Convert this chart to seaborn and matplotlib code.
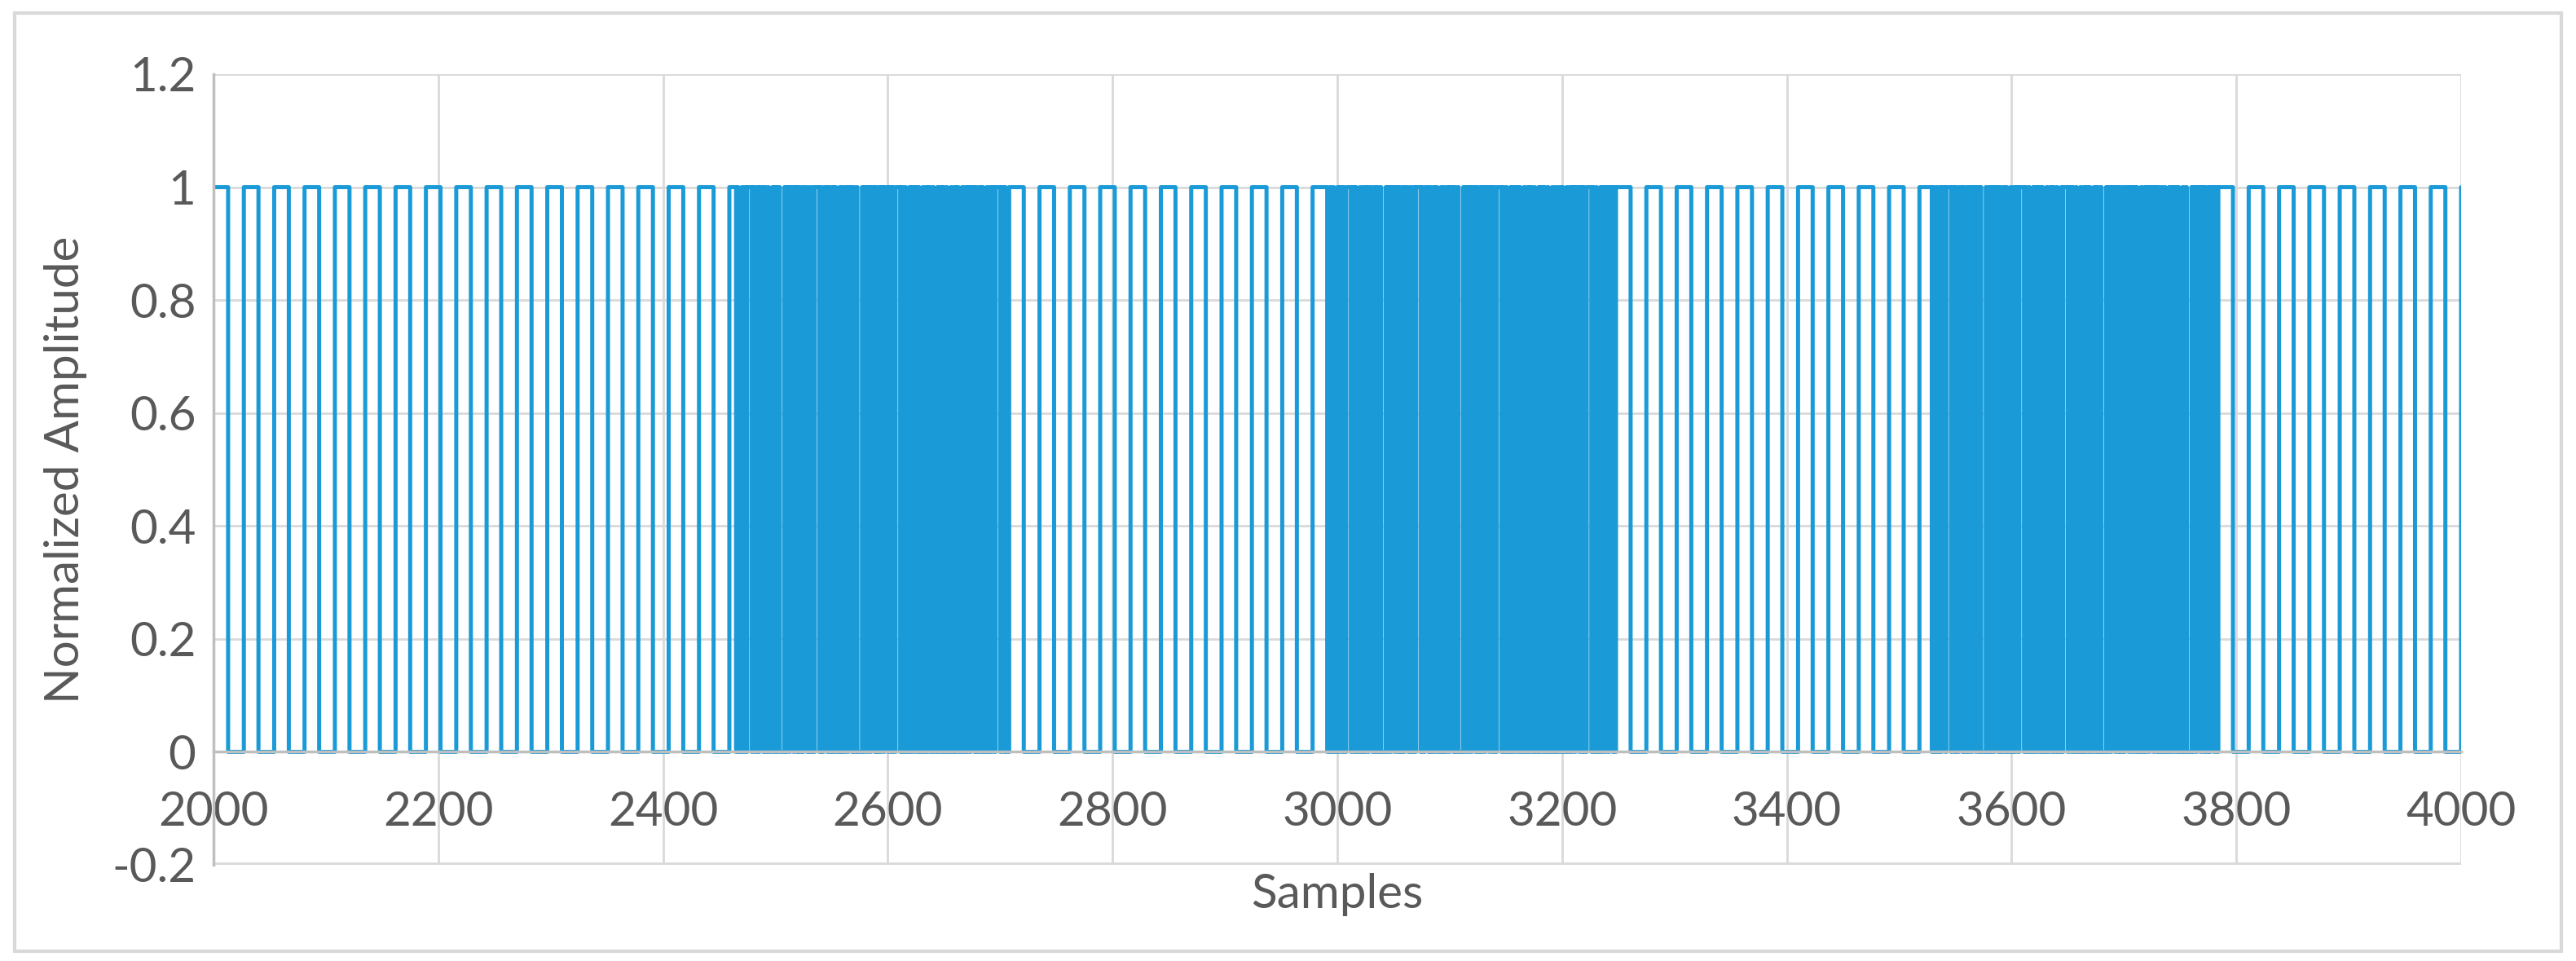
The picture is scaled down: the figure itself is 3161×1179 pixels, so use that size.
import numpy as np
import pandas as pd
import matplotlib
matplotlib.use("Agg")
import matplotlib.pyplot as plt
import seaborn as sns

# ---- data ----
x_ticks = [2000, 2200, 2400, 2600, 2800, 3000, 3200, 3400, 3600, 3800, 4000]
y_ticks = [-0.2, 0, 0.2, 0.4, 0.6, 0.8, 1, 1.2]
y_ticklabels = ["-0.2", "0", "0.2", "0.4", "0.6", "0.8", "1", "1.2"]
sparse_high = 13
sparse_low = 14
sparse_blocks = [(2000, 2463), (2708, 2993), (3248, 3526), (3784, 4000)]
dense_blocks = [(2463, 2708), (2993, 3248), (3526, 3784)]
dense_runs_1 = [2,1,1,3,1,2,1,1,4,1,2,2,1,1,3,1,1,2,1,3,2,1,1,1,2,4,1,1,2,1,3,1,2,1,1,2,1,1,3,2,
                1,2,1,1,4,1,1,2,3,1,1,2,1,1,2,3,1,1,1,2,2,1,3,1,1,2,1,4,1,1,2,1,2,1,3,1,1,2,1,1,
                2,1,3,1,2,1,1,2,4,1,1,2,1,3,1,1,2,1,2,1,1,3,1,2,1,1,2,2,1,3,1,1,2,1,1,2,1,3,1,2,
                1,1,2,3,1,2,1,1,2,1,3,1,1,2,2,1,1,3,1,2,1,1,2,1,4,1,2,1,1,3]
dense_runs_2 = [1,2,1,3,1,1,2,1,1,2,4,1,2,1,1,3,1,2,1,1,2,1,3,2,1,1,1,2,1,4,1,1,2,1,3,1,2,1,1,2,
                1,1,3,2,1,2,1,1,4,1,1,2,3,1,1,2,1,1,2,3,1,1,1,2,2,1,3,1,1,2,1,4,1,1,2,1,2,1,3,1,
                1,2,1,1,2,1,3,1,2,1,1,2,4,1,1,2,1,3,1,1,2,1,2,1,1,3,1,2,1,1,2,2,1,3,1,1,2,1,1,2,
                1,3,1,2,1,2,2,1,1,3,1,2,1,1,2,1,3,1,2,1,1,2,4,1,1,2,1,3,1,1,2,1,2,1,3,1,1,2]
dense_runs_3 = [3,1,1,2,1,2,1,1,3,1,4,1,2,1,1,2,3,1,1,2,1,1,2,1,3,1,2,1,1,4,1,2,1,1,2,1,3,1,1,2,
                2,1,1,3,1,2,1,1,2,1,4,1,1,2,1,3,1,1,2,1,2,1,1,3,1,2,2,1,1,2,1,3,1,1,4,1,2,1,1,2,
                1,3,1,2,1,1,2,1,1,3,2,1,1,2,1,4,1,1,2,1,3,1,2,1,1,2,1,1,3,1,2,1,2,1,1,3,1,2,1,1,
                2,1,3,1,2,1,1,2,1,2,1,3,1,1,2,1,2,1,1,3,1,2,1,4,1,1,2,1,3,1,2,1,1,2,1,1,3,1,2,1]
dense_runs = [dense_runs_1, dense_runs_2, dense_runs_3]

# ---- build the step signal ----
n = np.arange(2000, 4001)
amp = np.zeros(len(n))
for (a, b) in sparse_blocks:
    t = a
    while t < b:
        hi_end = min(t + sparse_high, b)
        amp[(n >= t) & (n < hi_end)] = 1
        t = t + sparse_high + sparse_low
for (a, b), runs in zip(dense_blocks, dense_runs):
    t, level, i = a, 1, 0
    while t < b:
        e = min(t + runs[i % len(runs)], b)
        amp[(n >= t) & (n < e)] = level
        level = 1 - level
        t = e
        i += 1
amp[n == 4000] = 1
df = pd.DataFrame({"Samples": n, "Normalized Amplitude": amp})

# ---- plot ----
sns.set_theme(style="white")
plt.rcParams["font.family"] = ["Lato", "DejaVu Sans"]
fig = plt.figure(figsize=(31.61, 11.79), dpi=100)
ax = fig.add_axes([262/3161, 1 - 1061/1179, (3020-262)/3161, (1061-91)/1179])
sns.lineplot(data=df, x="Samples", y="Normalized Amplitude", drawstyle="steps-post",
             color="#1A9BD7", linewidth=3.6, ax=ax)
ax.set_xlim(2000, 4000)
ax.set_ylim(-0.2, 1.2)
ax.set_xticks(x_ticks)
ax.set_yticks(y_ticks)
ax.set_yticklabels(y_ticklabels)
ax.grid(True, color="#D9D9D9", linewidth=2)
ax.set_axisbelow(True)
for s in ["top", "right"]:
    ax.spines[s].set_visible(False)
ax.spines["left"].set_color("#BFBFBF")
ax.spines["left"].set_linewidth(2.5)
ax.spines["bottom"].set_position(("data", 0))
ax.spines["bottom"].set_color("#BFBFBF")
ax.spines["bottom"].set_linewidth(2.5)
ax.axhline(-0.2, color="#D9D9D9", linewidth=4, zorder=0)
ax.tick_params(axis="both", labelsize=42, colors="#595959", length=12, width=2,
               color="#BFBFBF", direction="out")
ax.tick_params(axis="x", pad=22)
ax.set_xlabel("Samples", fontsize=42, color="#595959")
ax.set_ylabel("Normalized Amplitude", fontsize=42, color="#595959", labelpad=22)
ax.xaxis.set_label_coords(0.5, -0.01)
ax.xaxis.label.set_va("top")
fig.patches.append(plt.Rectangle((18/3161, 12/1179), 1 - 36/3161, 1 - 28/1179,
                                 transform=fig.transFigure, fill=False,
                                 edgecolor="#D9D9D9", linewidth=3))
fig.savefig("out.png", dpi=100, facecolor="white")
